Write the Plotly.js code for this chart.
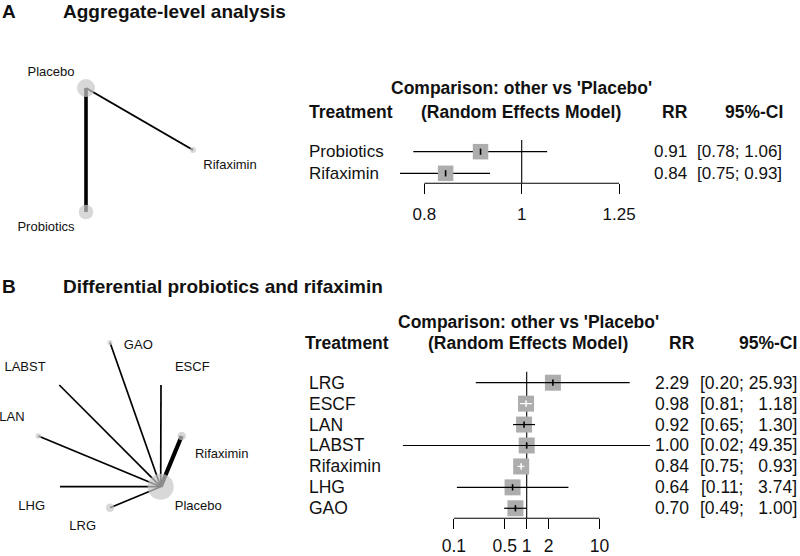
<!DOCTYPE html>
<html><head><meta charset="utf-8">
<script src="https://cdn.plot.ly/plotly-3.0.1.min.js"></script>
<style>html,body{margin:0;padding:0;background:#fff}#chart{width:800px;height:556px}</style>
</head><body><div id="chart"></div>
<script>
// ---------------- data ----------------
// Panel A forest
const aTreatments = ['Probiotics', 'Rifaximin'];
const aRR    = [0.91, 0.84];
const aLower = [0.78, 0.75];
const aUpper = [1.06, 0.93];
const aTicks = [0.8, 1, 1.25];
const aTickLabels = ['0.8', '1', '1.25'];

// Panel B forest
const bTreatments = ['LRG', 'ESCF', 'LAN', 'LABST', 'Rifaximin', 'LHG', 'GAO'];
const bRR    = [2.29, 0.98, 0.92, 1.00, 0.84, 0.64, 0.70];
const bLower = [0.20, 0.81, 0.65, 0.02, 0.75, 0.11, 0.49];
const bUpper = [25.93, 1.18, 1.30, 49.35, 0.93, 3.74, 1.00];
const bTicks = [0.1, 0.5, 1, 2, 10];
const bTickLabels = ['0.1', '0.5', '1', '2', '10'];

// Panel A network (layout coordinates of nodes, node size ~ sample size, edge thickness ~ n studies)
const netANodes = ['Placebo', 'Probiotics', 'Rifaximin'];
const netANodeX = [86, 86, 193];
const netANodeY = [88, 212, 150];
const netANodeSize = [18, 14.5, 6];
const netAEdgeFrom = ['Placebo', 'Placebo'];
const netAEdgeTo   = ['Probiotics', 'Rifaximin'];
const netAEdgeThickness = [3.6, 2];
const netALabelX = [51, 46, 230];
const netALabelY = [73, 228, 166];

// Panel B network
const netBNodes = ['Placebo', 'Rifaximin', 'GAO', 'ESCF', 'LABST', 'LAN', 'LHG', 'LRG'];
const netBNodeX = [160.7, 181.7, 110, 161, 59.3, 38.3, 60, 110];
const netBNodeY = [486.7, 436, 342.5, 385, 385, 436, 486.7, 507.7];
const netBNodeSize = [26, 8.5, 5, 0, 0, 5.5, 0, 8.5];
const netBEdgeFrom = ['Placebo', 'Placebo', 'Placebo', 'Placebo', 'Placebo', 'Placebo', 'Placebo'];
const netBEdgeTo   = ['Rifaximin', 'GAO', 'ESCF', 'LABST', 'LAN', 'LHG', 'LRG'];
const netBEdgeThickness = [4.2, 1.7, 1.7, 1.7, 1.7, 1.7, 1.7];
const netBLabelX = [198.3, 221.7, 138.3, 192.3, 25, 12, 31.7, 82.7];
const netBLabelY = [506.7, 455, 346, 367.3, 367.3, 417.3, 506.7, 526.7];

// ---------------- layout helpers ----------------
const W = 800, H = 556;
const FONT = '"Liberation Sans", Arial, Helvetica, sans-serif';
const TXT = '#111111';
const SQUARE = '#adadad';
const NODE = '#c8c8c8';
const fy = px => 1 - px / H;
const fx = px => px / W;

const geoA = {oneX: 521.7, pxPerDec: 1005, x0: 400, x1: 660, row0: 151.7, rowSp: 21.6,
              top: 128, bottom: 200, axisY: 183.3, refTop: 140, square: 15.5, fs: 17,
              nameX: 306.7, rrX: 689, ciX: 784, head1Y: 88, head2Y: 111.7, headCX: 521, headFs: 17.5,
              treatX: 307, rrHeadX: 690, ciHeadX: 785, standoff: 5, lineOnTop: false};
const geoB = {oneX: 526.7, pxPerDec: 72.85, x0: 395, x1: 665, row0: 382.7, rowSp: 20.93,
              top: 355, bottom: 535, axisY: 518.3, refTop: 371.7, square: 16, fs: 17.5,
              nameX: 307, rrX: 691, ciX: 799, head1Y: 321.7, head2Y: 343.3, headCX: 528, headFs: 17.5,
              treatX: 303, rrHeadX: 697, ciHeadX: 799, standoff: 2, lineOnTop: true};

const traces = [];
const annotations = [];
const layout = {
  width: W, height: H, margin: {l: 0, r: 0, t: 0, b: 0},
  paper_bgcolor: '#ffffff', plot_bgcolor: 'rgba(0,0,0,0)', showlegend: false,
  font: {family: FONT, color: TXT},
  xaxis: {domain: [0, 1], range: [0, W], visible: false, fixedrange: true},
  yaxis: {domain: [0, 1], range: [H, 0], visible: false, fixedrange: true},
  annotations: annotations
};

// ---------------- networks ----------------
function network(nodes, nx, ny, nsize, from, to, thick, lx, ly) {
  for (let i = 0; i < from.length; i++) {
    const a = nodes.indexOf(from[i]), b = nodes.indexOf(to[i]);
    traces.push({type: 'scatter', mode: 'lines', xaxis: 'x', yaxis: 'y',
      x: [nx[a], nx[b]], y: [ny[a], ny[b]],
      line: {color: '#000', width: thick[i]}, hoverinfo: 'skip'});
  }
  traces.push({type: 'scatter', mode: 'markers', xaxis: 'x', yaxis: 'y',
    x: nx, y: ny, marker: {size: nsize, color: NODE, line: {width: 0}}, hoverinfo: 'skip'});
  traces.push({type: 'scatter', mode: 'text', xaxis: 'x', yaxis: 'y',
    x: lx, y: ly, text: nodes, textposition: 'middle center',
    textfont: {family: FONT, size: 13, color: TXT}, hoverinfo: 'skip', cliponaxis: false});
}
network(netANodes, netANodeX, netANodeY, netANodeSize, netAEdgeFrom, netAEdgeTo, netAEdgeThickness, netALabelX, netALabelY);
network(netBNodes, netBNodeX, netBNodeY, netBNodeSize, netBEdgeFrom, netBEdgeTo, netBEdgeThickness, netBLabelX, netBLabelY);

// ---------------- forests ----------------
function pad(s, n) { let p = ''; for (let k = s.length; k < n; k++) p += '\u00a0\u00a0'; return p + s; }

function forest(idx, names, rr, lo, hi, ticks, tickLabels, g) {
  const xa = 'x' + idx, ya = 'y' + idx;
  const xr = [(g.x0 - g.oneX) / g.pxPerDec, (g.x1 - g.oneX) / g.pxPerDec];
  const yr = [(g.bottom - g.row0) / g.rowSp, (g.top - g.row0) / g.rowSp];
  const baseRow = (g.axisY - g.row0) / g.rowSp;
  const refTopRow = (g.refTop - g.row0) / g.rowSp;
  layout['xaxis' + idx] = {domain: [fx(g.x0), fx(g.x1)], type: 'log', range: xr,
    anchor: 'free', position: fy(g.axisY), side: 'bottom',
    tickvals: ticks, ticktext: tickLabels, ticks: 'outside', ticklen: 10, tickwidth: 1.1, tickcolor: '#000',
    ticklabelstandoff: g.standoff,
    tickfont: {family: FONT, size: g.fs, color: TXT},
    showline: false, showgrid: false, zeroline: false, fixedrange: true};
  layout['yaxis' + idx] = {domain: [fy(g.bottom), fy(g.top)], range: yr, visible: false, fixedrange: true};
  const rows = names.map((_, i) => i);
  // inside test: CI fully within the square
  const half = g.square / 2;
  const inside = rr.map((v, i) => (Math.log10(v / lo[i]) * g.pxPerDec < half) && (Math.log10(hi[i] / v) * g.pxPerDec < half));

  // reference line and baseline
  traces.push({type: 'scatter', mode: 'lines', xaxis: xa, yaxis: ya, x: [1, 1], y: [refTopRow, baseRow],
    line: {color: '#000', width: 1.1}, hoverinfo: 'skip'});
  traces.push({type: 'scatter', mode: 'lines', xaxis: xa, yaxis: ya, x: [ticks[0], ticks[ticks.length - 1]], y: [baseRow, baseRow],
    line: {color: '#000', width: 1.1}, hoverinfo: 'skip'});

  const ciX = [], ciY = [], wX = [], wY = [];
  rows.forEach(i => {
    if (inside[i]) { wX.push(lo[i], hi[i], null); wY.push(i, i, null); }
    else { ciX.push(lo[i], hi[i], null); ciY.push(i, i, null); }
  });
  const ciTrace = {type: 'scatter', mode: 'lines', xaxis: xa, yaxis: ya, x: ciX, y: ciY,
    line: {color: '#000', width: 1.2}, hoverinfo: 'skip', connectgaps: false};
  if (!g.lineOnTop) traces.push(ciTrace);
  traces.push({type: 'scatter', mode: 'markers', xaxis: xa, yaxis: ya, x: rr, y: rows,
    marker: {symbol: 'square', size: g.square, color: SQUARE, line: {width: 0}}, hoverinfo: 'skip'});
  if (g.lineOnTop) traces.push(ciTrace);
  if (wX.length) traces.push({type: 'scatter', mode: 'lines', xaxis: xa, yaxis: ya, x: wX, y: wY,
    line: {color: '#fff', width: 1.2}, hoverinfo: 'skip', connectgaps: false});
  traces.push({type: 'scatter', mode: 'markers', xaxis: xa, yaxis: ya, x: rr, y: rows,
    marker: {symbol: 'line-ns', size: 4.5, line: {width: 1.6, color: inside.map(v => v ? '#fff' : '#000')}}, hoverinfo: 'skip'});

  // header text
  const hf = {family: FONT, size: g.headFs, color: TXT};
  annotations.push({xref: 'paper', yref: 'paper', x: fx(g.headCX), y: fy(g.head1Y), xanchor: 'center', yanchor: 'middle',
    text: "<b>Comparison: other vs 'Placebo'</b>", showarrow: false, font: hf});
  annotations.push({xref: 'paper', yref: 'paper', x: fx(g.treatX), y: fy(g.head2Y), xanchor: 'left', yanchor: 'middle',
    text: '<b>Treatment</b>', showarrow: false, font: hf});
  annotations.push({xref: 'paper', yref: 'paper', x: fx(g.headCX), y: fy(g.head2Y), xanchor: 'center', yanchor: 'middle',
    text: '<b>(Random Effects Model)</b>', showarrow: false, font: hf});
  annotations.push({xref: 'paper', yref: 'paper', x: fx(g.rrHeadX), y: fy(g.head2Y), xanchor: 'right', yanchor: 'middle',
    text: '<b>RR</b>', showarrow: false, font: hf});
  annotations.push({xref: 'paper', yref: 'paper', x: fx(g.ciHeadX), y: fy(g.head2Y), xanchor: 'right', yanchor: 'middle',
    text: '<b>95%-CI</b>', showarrow: false, font: hf});

  // row text
  const rf = {family: FONT, size: g.fs, color: TXT};
  const loS = lo.map(v => v.toFixed(2)), hiS = hi.map(v => v.toFixed(2));
  const loN = Math.max(...loS.map(s => s.length)), hiN = Math.max(...hiS.map(s => s.length));
  rows.forEach(i => {
    annotations.push({xref: 'paper', yref: ya, x: fx(g.nameX), y: i, xanchor: 'left', yanchor: 'middle',
      text: names[i], showarrow: false, font: rf});
    annotations.push({xref: 'paper', yref: ya, x: fx(g.rrX), y: i, xanchor: 'right', yanchor: 'middle',
      text: rr[i].toFixed(2), showarrow: false, font: rf});
    annotations.push({xref: 'paper', yref: ya, x: fx(g.ciX), y: i, xanchor: 'right', yanchor: 'middle',
      text: '[' + pad(loS[i], loN) + ';\u00a0' + pad(hiS[i], hiN) + ']', showarrow: false, font: rf});
  });
}
forest(2, aTreatments, aRR, aLower, aUpper, aTicks, aTickLabels, geoA);
forest(3, bTreatments, bRR, bLower, bUpper, bTicks, bTickLabels, geoB);

// ---------------- panel titles ----------------
const tf = {family: FONT, size: 19, color: TXT};
annotations.push({xref: 'paper', yref: 'paper', x: fx(0), y: fy(11.5), xanchor: 'left', yanchor: 'middle', text: '<b>A</b>', showarrow: false, font: tf});
annotations.push({xref: 'paper', yref: 'paper', x: fx(61), y: fy(11.5), xanchor: 'left', yanchor: 'middle', text: '<b>Aggregate-level analysis</b>', showarrow: false, font: tf});
annotations.push({xref: 'paper', yref: 'paper', x: fx(0), y: fy(286.5), xanchor: 'left', yanchor: 'middle', text: '<b>B</b>', showarrow: false, font: tf});
annotations.push({xref: 'paper', yref: 'paper', x: fx(61), y: fy(286.5), xanchor: 'left', yanchor: 'middle', text: '<b>Differential probiotics and rifaximin</b>', showarrow: false, font: tf});

Plotly.newPlot('chart', traces, layout, {staticPlot: true, displayModeBar: false});
</script>
</body></html>
